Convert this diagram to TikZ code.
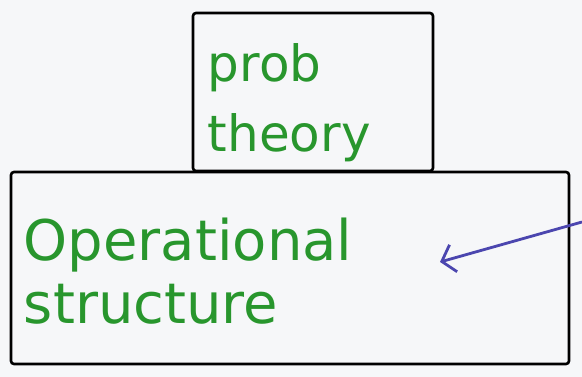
\documentclass[tikz,border=0pt]{standalone}
\usepackage{fontspec}
\setmainfont{DejaVu Sans}
\usetikzlibrary{positioning,arrows.meta}
\definecolor{handgreen}{RGB}{40,150,45}
\definecolor{penblue}{RGB}{75,70,175}
\definecolor{paper}{RGB}{246,247,249}
\tikzset{
  box/.style={draw=black,line width=2.6pt,rounded corners=3pt,inner sep=0pt},
  hand/.style={text=handgreen,font=\fontsize{50}{70}\selectfont,align=left,inner sep=0pt},
  pen/.style={draw=penblue,line width=2.8pt,-{Straight Barb[length=12pt,width=28pt,line width=2.8pt]}}
}
\begin{document}
\begin{tikzpicture}[x=1pt,y=-1pt]
    \fill[paper] (0,0) rectangle (582,377);
    \useasboundingbox (0,0) rectangle (582,377);
    % boxes
    \node[box,minimum width=240pt,minimum height=158pt] (prob) at (313,92) {};
    \node[box,minimum width=558pt,minimum height=192pt] (opstruct) at (290,268) {};
    % texts
    \node[hand,below right=32pt and 16pt of prob.north west] (probtext) {prob\\theory};
    \node[hand,font=\fontsize{56}{63}\selectfont,below right=47pt and 14pt of opstruct.north west] (optext) {Operational\\structure};
    % arrow
    \coordinate (arrowstart) at (582,222);
    \coordinate (arrowtip) at (440,262);
    \draw[pen] (arrowstart) -- (arrowtip);
\end{tikzpicture}
\end{document}
